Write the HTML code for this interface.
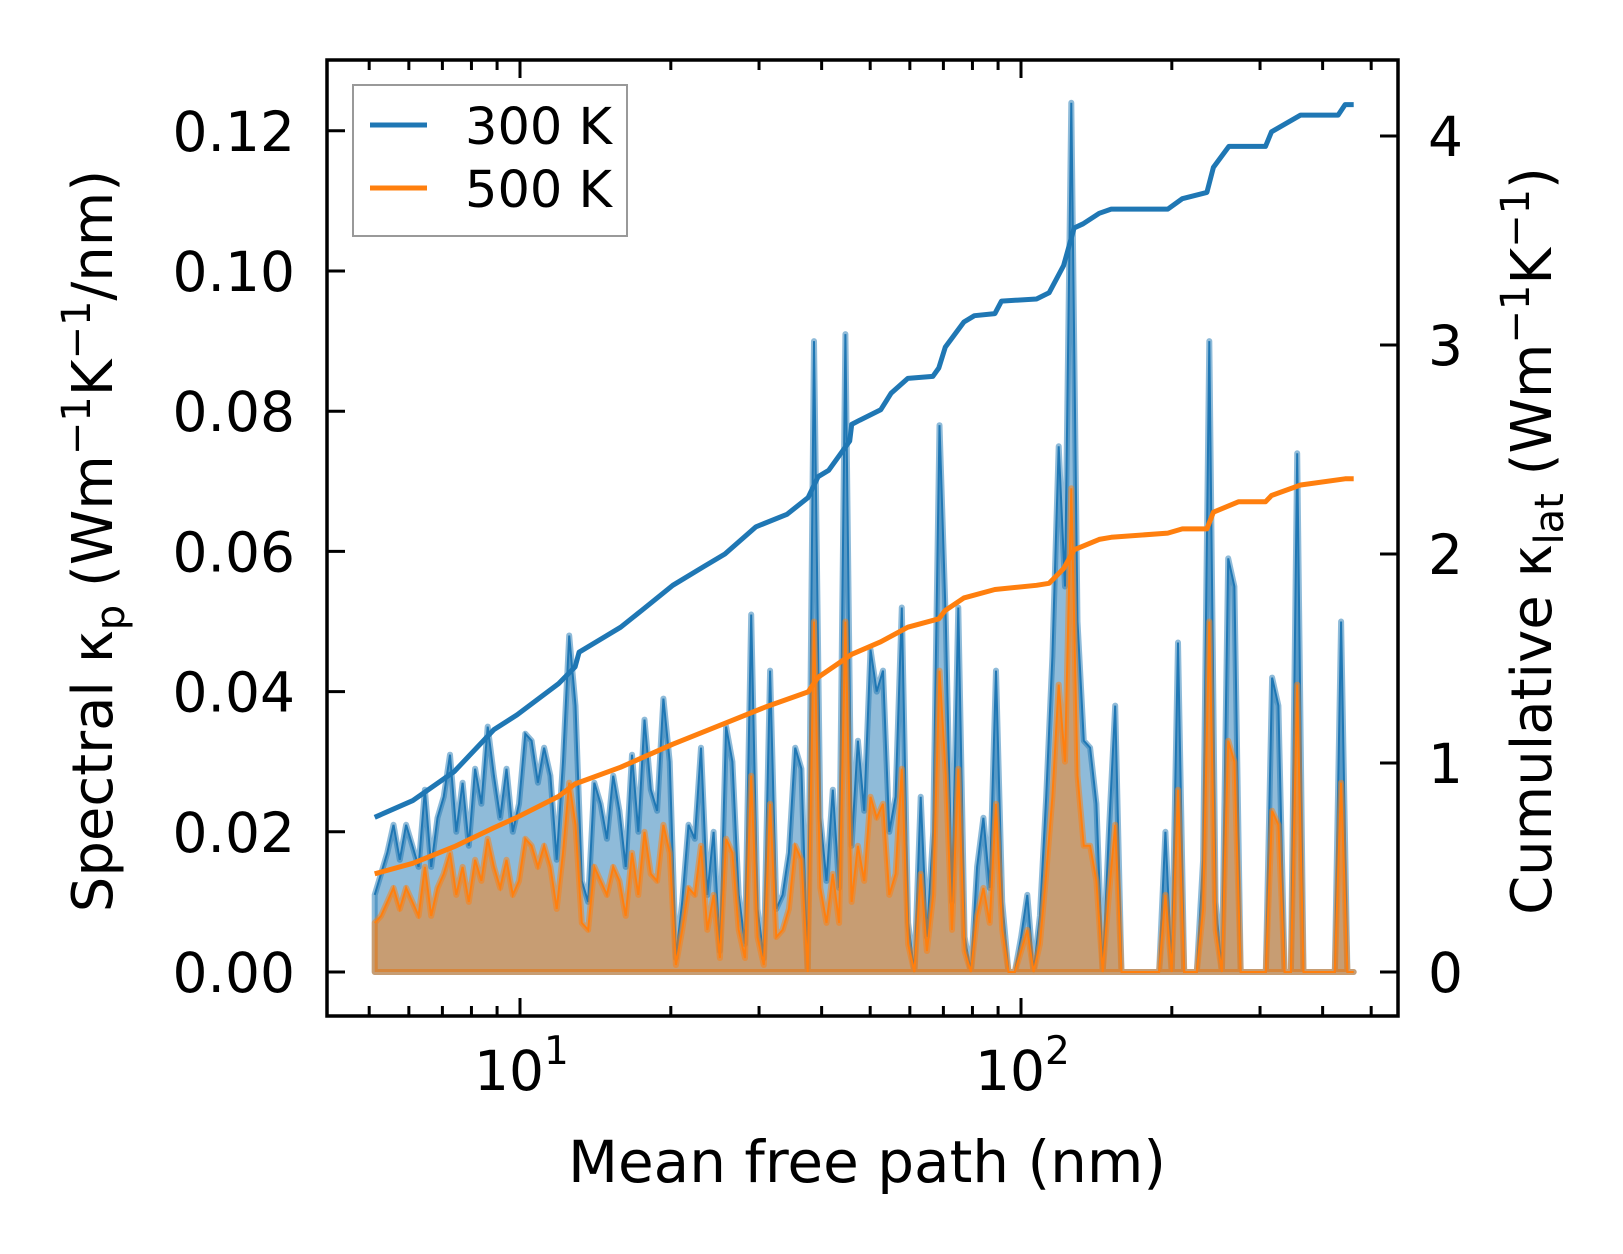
<!DOCTYPE html>
<html><head><meta charset="utf-8"><style>
html,body{margin:0;padding:0;background:#fff}
svg{display:block;font-family:"DejaVu Sans","Liberation Sans",sans-serif}
</style></head><body>
<svg id="chart" width="1623" height="1254" viewBox="0 0 1623 1254" xmlns="http://www.w3.org/2000/svg">
<g id="marks"></g>
<g id="axes"></g>
</svg>
<script>
// spectral kappa per bin (left axis), log-spaced bins from ~5 nm to ~460 nm
const spec300 = [0.011,0.014,0.017,0.021,0.016,0.021,0.018,0.015,0.026,0.015,0.022,0.025,0.031,0.020,0.027,0.018,0.029,0.024,0.035,0.028,0.022,0.029,0.020,0.024,0.034,0.033,0.027,0.032,0.028,0.016,0.030,0.048,0.038,0.013,0.010,0.027,0.024,0.019,0.028,0.023,0.015,0.031,0.020,0.036,0.026,0.023,0.039,0.030,0.002,0.010,0.021,0.019,0.032,0.011,0.020,0.003,0.035,0.030,0.011,0.004,0.051,0.009,0.002,0.043,0.009,0.011,0.017,0.032,0.029,0.000,0.090,0.022,0.013,0.026,0.012,0.091,0.018,0.033,0.023,0.046,0.040,0.043,0.020,0.025,0.052,0.007,0.000,0.025,0.005,0.020,0.078,0.050,0.010,0.052,0.005,0.000,0.015,0.022,0.012,0.043,0.010,0.000,0.000,0.005,0.011,0.000,0.008,0.025,0.045,0.075,0.055,0.124,
0.050,0.033,0.032,0.024,0.000,0.020,0.038,0.000,0.000,0.000,0.000,0.000,0.000,0.000,0.020,0.000,0.047,0.000,0.000,0.000,0.016,0.090,0.010,0.000,0.059,0.055,0.000,0.000,0.000,0.000,0.000,0.042,0.038,0.000,0.000,0.074,0.000,0.000,0.000,0.000,0.000,0.000,0.050,0.000,0.000];
const spec500 = [0.007,0.008,0.010,0.012,0.009,0.012,0.010,0.008,0.015,0.008,0.012,0.014,0.017,0.011,0.015,0.010,0.016,0.013,0.019,0.015,0.012,0.016,0.011,0.013,0.019,0.018,0.015,0.018,0.015,0.009,0.017,0.027,0.021,0.007,0.006,0.015,0.013,0.011,0.015,0.013,0.008,0.017,0.011,0.020,0.014,0.013,0.021,0.017,0.001,0.006,0.012,0.011,0.018,0.006,0.011,0.002,0.019,0.017,0.006,0.002,0.028,0.005,0.001,0.024,0.005,0.006,0.009,0.018,0.016,0.000,0.050,0.012,0.007,0.014,0.007,0.050,0.010,0.018,0.013,0.025,0.022,0.024,0.011,0.014,0.029,0.004,0.000,0.014,0.003,0.011,0.043,0.028,0.006,0.029,0.003,0.000,0.008,0.012,0.007,0.024,0.006,0.000,0.000,0.003,0.006,0.000,0.004,0.014,0.025,0.041,0.030,0.069,
0.028,0.018,0.018,0.013,0.000,0.011,0.021,0.000,0.000,0.000,0.000,0.000,0.000,0.000,0.011,0.000,0.026,0.000,0.000,0.000,0.009,0.050,0.006,0.000,0.033,0.030,0.000,0.000,0.000,0.000,0.000,0.023,0.021,0.000,0.000,0.041,0.000,0.000,0.000,0.000,0.000,0.000,0.027,0.000,0.000];
const specLogMin = 0.71, specLogMax = 2.664;
// cumulative kappa (right axis)
const cum300Log = [0.710,0.786,0.869,0.948,0.994,1.077,1.110,1.118,1.201,1.243,1.305,1.367,1.409,1.471,1.533,1.575,1.595,1.616,1.658,1.662,1.678,1.720,1.741,1.774,1.824,1.836,1.849,1.886,1.907,1.948,1.961,2.031,2.056,2.085,2.106,2.124,2.156,2.180,2.293,2.322,2.371,2.384,2.415,2.434,2.488,2.500,2.558,2.633,2.647,2.664];
const cum300 = [0.74,0.82,0.96,1.16,1.23,1.38,1.46,1.53,1.65,1.73,1.85,1.94,2.00,2.13,2.19,2.27,2.37,2.40,2.54,2.62,2.64,2.69,2.77,2.84,2.85,2.89,2.99,3.11,3.14,3.15,3.21,3.22,3.25,3.38,3.56,3.58,3.63,3.65,3.65,3.70,3.73,3.85,3.95,3.95,3.95,4.02,4.10,4.10,4.15,4.15];
const cum500Log = [0.710,0.786,0.869,0.948,0.994,1.077,1.110,1.201,1.305,1.409,1.492,1.575,1.595,1.662,1.720,1.774,1.836,1.849,1.886,1.948,2.031,2.056,2.085,2.106,2.156,2.180,2.293,2.322,2.371,2.384,2.434,2.488,2.500,2.558,2.647,2.664];
const cum500 = [0.47,0.52,0.60,0.69,0.74,0.84,0.90,0.98,1.09,1.19,1.27,1.34,1.41,1.52,1.58,1.65,1.69,1.73,1.79,1.83,1.85,1.86,1.93,2.02,2.07,2.08,2.10,2.12,2.12,2.20,2.25,2.25,2.28,2.33,2.36,2.36];
const leftTicks = ["0.00","0.02","0.04","0.06","0.08","0.10","0.12"];
const rightTicks = ["0","1","2","3","4"];
const xMajors = [1,2];

const L=327,R=1398,T=60,B=1016;
const xs = lg => 520 + (lg-1)*501;
const yl = v => 972 - v/0.02*140.2;
const yr = v => 972 - v*209;
const NS="http://www.w3.org/2000/svg";
const marks=document.getElementById('marks'), axes=document.getElementById('axes');
function mk(parent,tag,attrs){const e=document.createElementNS(NS,tag);for(const k in attrs)e.setAttribute(k,attrs[k]);parent.appendChild(e);return e;}

function specPts(arr){
  const n=arr.length;return arr.map((v,i)=>[xs(specLogMin+(specLogMax-specLogMin)*i/(n-1)), yl(v)]);
}
function drawSpec(arr,color,name){
  const p=specPts(arr);
  const d='M'+p[0][0]+','+yl(0)+' '+p.map(q=>'L'+q[0].toFixed(1)+','+q[1].toFixed(1)).join(' ')+' L'+p[p.length-1][0]+','+yl(0)+' Z';
  const a=mk(marks,'path',{d:d,fill:color,'fill-opacity':0.5,stroke:color,'stroke-opacity':0.5,'stroke-width':6,'stroke-linejoin':'round'});
  
  
  const l=mk(marks,'polyline',{points:p.map(q=>q[0].toFixed(1)+','+q[1].toFixed(1)).join(' '),fill:'none',stroke:color,'stroke-width':2});
  
  
}
drawSpec(spec300,'#1f77b4','spectral-300k');
drawSpec(spec500,'#ff7f0e','spectral-500k');
function drawCum(lx,vals,color,name){
  const l=mk(marks,'polyline',{points:lx.map((g,i)=>xs(g).toFixed(1)+','+yr(vals[i]).toFixed(1)).join(' '),fill:'none',stroke:color,'stroke-width':5,'stroke-linejoin':'round'});
  
  
}
drawCum(cum300Log,cum300,'#1f77b4','cumulative-300k');
drawCum(cum500Log,cum500,'#ff7f0e','cumulative-500k');

const fr=mk(axes,'rect',{x:L,y:T,width:R-L,height:B-T,fill:'none',stroke:'#000','stroke-width':3.5});


leftTicks.forEach(t=>{const y=yl(parseFloat(t));
  mk(axes,'line',{x1:L,x2:L+18,y1:y,y2:y,stroke:'#000','stroke-width':3});
  const e=mk(axes,'text',{x:295,y:y+20,'text-anchor':'end','font-size':55});e.textContent=t;
  
  
});
rightTicks.forEach(t=>{const y=yr(parseFloat(t));
  mk(axes,'line',{x1:R-18,x2:R,y1:y,y2:y,stroke:'#000','stroke-width':3});
  const e=mk(axes,'text',{x:1428,y:y+20,'font-size':55});e.textContent=t;
  
  
});
for(let dec=0;dec<=2;dec++){for(let m=1;m<=9;m++){const lg=dec+Math.log10(m);const x=xs(lg);
  if(x<L+2||x>R-2)continue;const len=m===1?18:10;
  mk(axes,'line',{x1:x,x2:x,y1:B,y2:B-len,stroke:'#000','stroke-width':3});
  mk(axes,'line',{x1:x,x2:x,y1:T,y2:T+len,stroke:'#000','stroke-width':3});}}
xMajors.forEach(p=>{const e=mk(axes,'text',{x:xs(p)-46,y:1090,'font-size':55});
  e.innerHTML='10<tspan dy="-26" font-size="39">'+p+'</tspan>';
  
  
});
</script>
<svg style="position:absolute;left:0;top:0" width="1623" height="1254" xmlns="http://www.w3.org/2000/svg">
<g font-family="DejaVu Sans, Liberation Sans, sans-serif">
<text x="867" y="1182" text-anchor="middle" font-size="58">Mean free path (nm)</text>
<text transform="translate(112,541) rotate(-90)" text-anchor="middle" font-size="56">Spectral κ<tspan dy="12" font-size="40">p</tspan><tspan dy="-12"> (Wm</tspan><tspan dy="-22" font-size="40">−1</tspan><tspan dy="22">K</tspan><tspan dy="-22" font-size="40">−1</tspan><tspan dy="22">/nm)</tspan></text>
<text transform="translate(1551,541) rotate(-90)" text-anchor="middle" font-size="56">Cumulative κ<tspan dy="12" font-size="40">lat</tspan><tspan dy="-12"> (Wm</tspan><tspan dy="-22" font-size="40">−1</tspan><tspan dy="22">K</tspan><tspan dy="-22" font-size="40">−1</tspan><tspan dy="22">)</tspan></text>
<g>
<rect x="353" y="85" width="274" height="151" fill="#fff" fill-opacity="0.8" stroke="#999" stroke-width="2"/>
<line x1="370" x2="427" y1="125" y2="125" stroke="#1f77b4" stroke-width="5"/>
<text x="465" y="144" font-size="51">300 K</text>
<line x1="370" x2="427" y1="188" y2="188" stroke="#ff7f0e" stroke-width="5"/>
<text x="465" y="207" font-size="51">500 K</text>
</g></g></svg>
</body></html>
